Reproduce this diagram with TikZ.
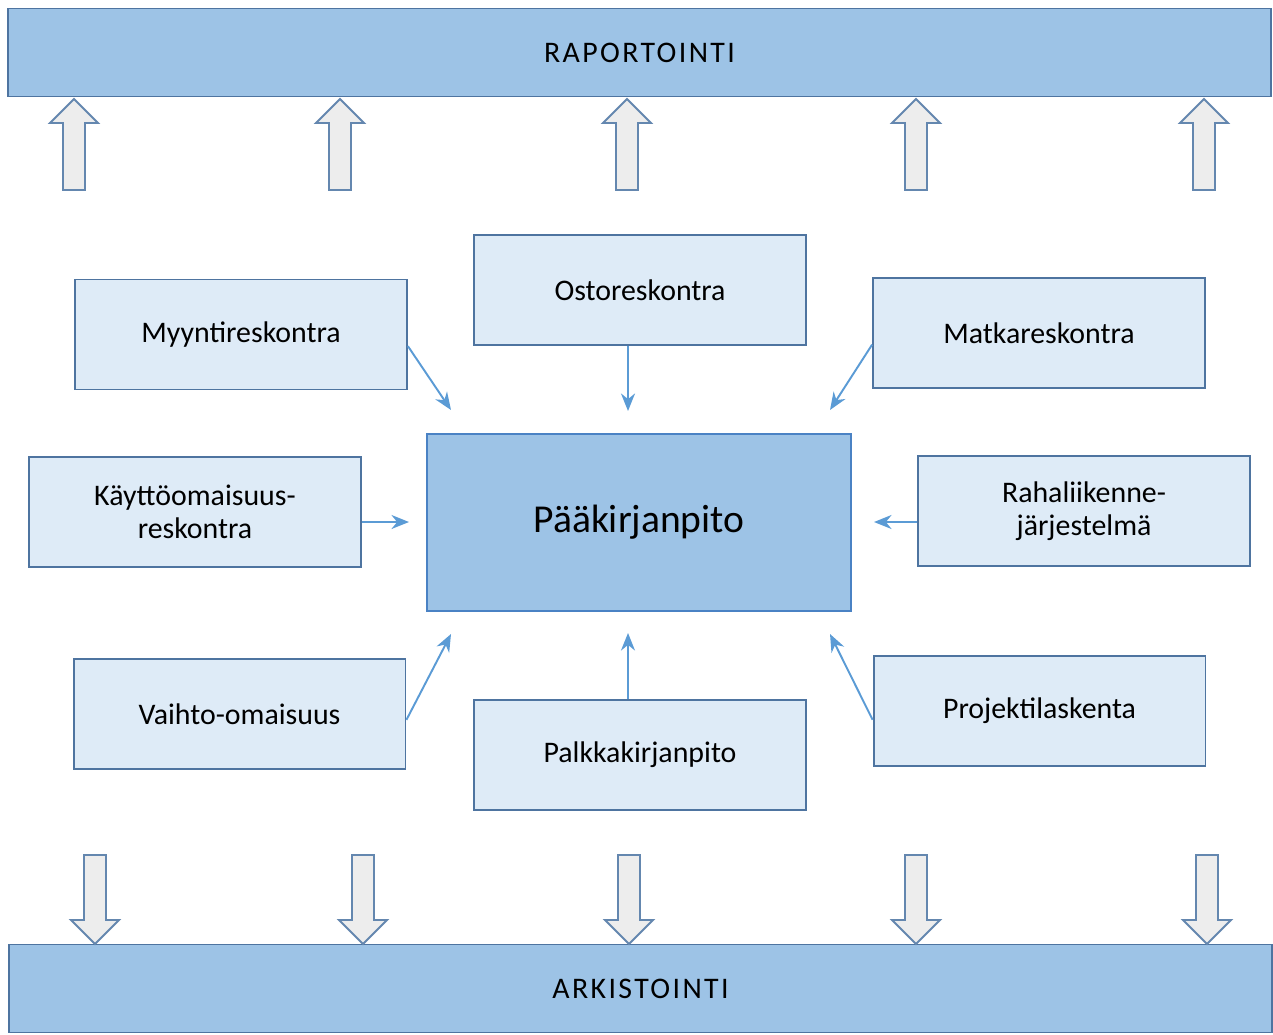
\documentclass[tikz,border=0pt]{standalone}
\usepackage{fontspec}
\setmainfont{Carlito}
\newfontfamily\barfont[LetterSpace=8]{Carlito}
\usetikzlibrary{arrows.meta}

\definecolor{barblue}{RGB}{157,195,230}
\definecolor{boxblue}{RGB}{222,235,247}
\definecolor{edgeblue}{RGB}{78,116,160}
\definecolor{mainedge}{RGB}{74,130,196}
\definecolor{linkblue}{RGB}{91,155,213}
\definecolor{blockgray}{RGB}{237,237,237}
\definecolor{blockedge}{RGB}{100,135,175}

\tikzset{
  subbox/.style={draw=edgeblue, line width=1.1pt, fill=boxblue, minimum width=6.64cm,
    minimum height=2.2cm, align=center, font=\fontsize{17}{19}\selectfont},
  mainbox/.style={draw=mainedge, line width=1.1pt, fill=barblue, minimum width=8.48cm,
    minimum height=3.54cm, font=\fontsize{22.5}{26}\selectfont},
  bar/.style={draw=edgeblue, line width=1.1pt, fill=barblue, minimum width=25.26cm,
    minimum height=1.76cm, font=\barfont\fontsize{17}{19}\selectfont},
  link/.style={draw=linkblue, line width=1.1pt, -{Stealth[length=10pt, width=8pt]}},
  blockarrow/.style={draw=blockedge, line width=1.1pt, fill=blockgray, line join=miter},
}

\begin{document}
\begin{tikzpicture}[x=0.02cm, y=-0.02cm]
        \useasboundingbox (0,0) rectangle (1273,1034);

        % Bars
        \node[bar] (raportointi) at (639.5,52.5) {RAPORTOINTI};
        \node[bar] (arkistointi) at (640.5,988.5) {ARKISTOINTI};

        % Block arrows
        \foreach \x in {74,340,627,916,1204}
            \draw[blockarrow] (\x-11,190) -- (\x-11,123) -- (\x-24,123) -- (\x,99)
                -- (\x+24,123) -- (\x+11,123) -- (\x+11,190) -- cycle;
        \foreach \x in {95,363,629,916,1207}
            \draw[blockarrow] (\x-11,855) -- (\x-11,920) -- (\x-24,920) -- (\x,944)
                -- (\x+24,920) -- (\x+11,920) -- (\x+11,855) -- cycle;

        % Ledger and sub-ledgers
        \node[mainbox] (paa) at (639,522.5) {Pääkirjanpito};
        \node[subbox] (myynti) at (241,334.5) {Myyntireskontra};
        \node[subbox] (osto) at (640,290) {Ostoreskontra};
        \node[subbox] (matka) at (1039,333) {Matkareskontra};
        \node[subbox] (kaytto) at (195,512) {Käyttöomaisuus-\\reskontra};
        \node[subbox] (raha) at (1084,511) {Rahaliikenne-\\järjestelmä};
        \node[subbox] (vaihto) at (239.5,714) {Vaihto-omaisuus};
        \node[subbox] (palkka) at (640,755) {Palkkakirjanpito};
        \node[subbox] (projekti) at (1039.5,711) {Projektilaskenta};

        % Arrow ends
        \coordinate (myyntiend) at (451,410);
        \coordinate (ostoend) at (628,411);
        \coordinate (matkaend) at (830,410);
        \coordinate (kayttoend) at (409,522);
        \coordinate (rahaend) at (874,522);
        \coordinate (vaihtoend) at (451,634);
        \coordinate (palkkaend) at (628,633);
        \coordinate (projektiend) at (830,634);

        % Links
        \draw[link] (myynti.-4) -- (myyntiend);
        \draw[link] (osto.south -| ostoend) -- (ostoend);
        \draw[link] (matka.184) -- (matkaend);
        \draw[link] (kaytto.east |- kayttoend) -- (kayttoend);
        \draw[link] (raha.west |- rahaend) -- (rahaend);
        \draw[link] (vaihto.-2) -- (vaihtoend);
        \draw[link] (palkka.north -| palkkaend) -- (palkkaend);
        \draw[link] (projekti.183) -- (projektiend);
    \end{tikzpicture}
\end{document}
